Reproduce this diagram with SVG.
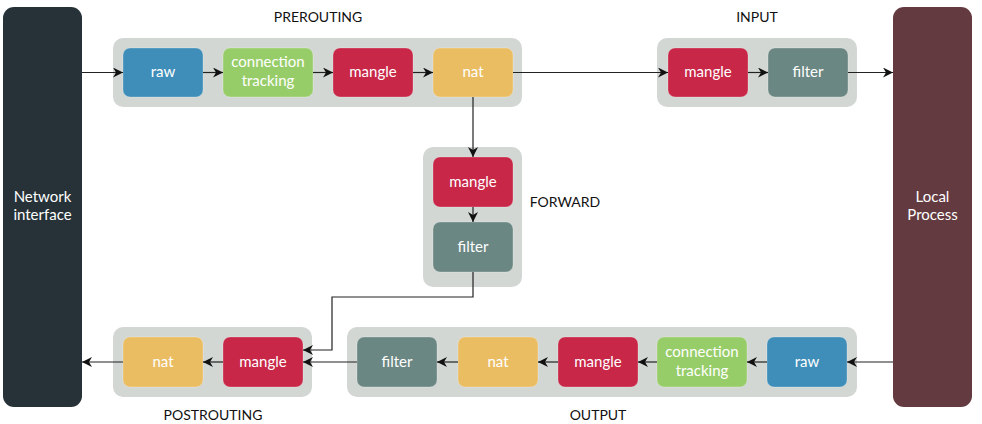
<svg xmlns="http://www.w3.org/2000/svg" width="982" height="424" viewBox="0 0 982 424">
<defs>
<style>
.grp{fill:#d3d7d4}
.n{stroke-width:1;stroke-opacity:0.25;stroke:#fff}
.raw{fill:#3e8eb9}
.ct{fill:#97cd69}
.mg{fill:#c82748}
.nat{fill:#ebbd62}
.flt{fill:#6b8783}
.t{font-family:Lato,"Open Sans",sans-serif;font-size:15px;fill:#fff;text-anchor:middle}
.lb{font-family:Lato,"Open Sans",sans-serif;font-size:14px;fill:#111;text-anchor:middle}
.c{fill:none;stroke:#222;stroke-width:1.2}
</style>
<marker id="ah" viewBox="0 0 10 10" refX="10" refY="5" markerWidth="10" markerHeight="10" markerUnits="userSpaceOnUse" orient="auto">
<path d="M0,0 L10,5 L0,10 L3,5 Z" fill="#111"/>
</marker>
</defs>
<rect width="982" height="424" fill="#fff"/>
<g id="network-interface">
<rect x="3" y="7" width="79" height="400" rx="11" fill="#263238"/>
<text class="t" x="42.5" y="202">Network</text>
<text class="t" x="42.5" y="220">interface</text>
</g>
<g id="local-process">
<rect x="893" y="7" width="79" height="400" rx="11" fill="#633a40"/>
<text class="t" x="932.5" y="202">Local</text>
<text class="t" x="932.5" y="220">Process</text>
</g>
<g id="prerouting">
<rect class="grp" x="113" y="38" width="409" height="69" rx="10"/>
<text class="lb" x="318" y="22">PREROUTING</text>
<g id="pre-raw"><rect class="n raw" x="123" y="48" width="80" height="49" rx="7"/><text class="t" x="163" y="77">raw</text></g>
<g id="pre-ct"><rect class="n ct" x="223" y="48" width="90" height="49" rx="7"/><text class="t" x="268" y="67">connection</text><text class="t" x="268" y="86">tracking</text></g>
<g id="pre-mangle"><rect class="n mg" x="333" y="48" width="80" height="49" rx="7"/><text class="t" x="373" y="77">mangle</text></g>
<g id="pre-nat"><rect class="n nat" x="433" y="48" width="80" height="49" rx="7"/><text class="t" x="473" y="77">nat</text></g>
</g>
<g id="input">
<rect class="grp" x="657" y="38" width="200" height="69" rx="10"/>
<text class="lb" x="757" y="22">INPUT</text>
<g id="in-mangle"><rect class="n mg" x="668" y="48" width="80" height="49" rx="7"/><text class="t" x="708" y="77">mangle</text></g>
<g id="in-filter"><rect class="n flt" x="768" y="48" width="80" height="49" rx="7"/><text class="t" x="808" y="77">filter</text></g>
</g>
<g id="forward">
<rect class="grp" x="423" y="147" width="99" height="140" rx="10"/>
<text class="lb" x="565" y="207">FORWARD</text>
<g id="fw-mangle"><rect class="n mg" x="433" y="157" width="80" height="50" rx="7"/><text class="t" x="473" y="187">mangle</text></g>
<g id="fw-filter"><rect class="n flt" x="433" y="222" width="80" height="50" rx="7"/><text class="t" x="473" y="252">filter</text></g>
</g>
<g id="postrouting">
<rect class="grp" x="113" y="327" width="199" height="70" rx="10"/>
<text class="lb" x="213" y="420">POSTROUTING</text>
<g id="post-nat"><rect class="n nat" x="123" y="337" width="80" height="50" rx="7"/><text class="t" x="163" y="367">nat</text></g>
<g id="post-mangle"><rect class="n mg" x="223" y="337" width="80" height="50" rx="7"/><text class="t" x="263" y="367">mangle</text></g>
</g>
<g id="output">
<rect class="grp" x="347" y="327" width="510" height="70" rx="10"/>
<text class="lb" x="598" y="420">OUTPUT</text>
<g id="out-filter"><rect class="n flt" x="357" y="337" width="80" height="50" rx="7"/><text class="t" x="397" y="367">filter</text></g>
<g id="out-nat"><rect class="n nat" x="458" y="337" width="80" height="50" rx="7"/><text class="t" x="498" y="367">nat</text></g>
<g id="out-mangle"><rect class="n mg" x="558" y="337" width="80" height="50" rx="7"/><text class="t" x="598" y="367">mangle</text></g>
<g id="out-ct"><rect class="n ct" x="657" y="337" width="90" height="50" rx="7"/><text class="t" x="702" y="357">connection</text><text class="t" x="702" y="376">tracking</text></g>
<g id="out-raw"><rect class="n raw" x="767" y="337" width="80" height="50" rx="7"/><text class="t" x="807" y="367">raw</text></g>
</g>
<g id="connectors">
<path class="c" d="M82,72.5 H123" marker-end="url(#ah)"/>
<path class="c" d="M203,72.5 H223" marker-end="url(#ah)"/>
<path class="c" d="M313,72.5 H333" marker-end="url(#ah)"/>
<path class="c" d="M413,72.5 H433" marker-end="url(#ah)"/>
<path class="c" d="M513,72.5 H668" marker-end="url(#ah)"/>
<path class="c" d="M748,72.5 H768" marker-end="url(#ah)"/>
<path class="c" d="M848,72.5 H893" marker-end="url(#ah)"/>
<path class="c" d="M473,97 V157" marker-end="url(#ah)"/>
<path class="c" d="M473,207 V222" marker-end="url(#ah)"/>
<path class="c" d="M473,272 V297 H332 V350 H303" marker-end="url(#ah)"/>
<path class="c" d="M893,362 H847" marker-end="url(#ah)"/>
<path class="c" d="M767,362 H747" marker-end="url(#ah)"/>
<path class="c" d="M657,362 H638" marker-end="url(#ah)"/>
<path class="c" d="M558,362 H538" marker-end="url(#ah)"/>
<path class="c" d="M458,362 H437" marker-end="url(#ah)"/>
<path class="c" d="M357,362 H303" marker-end="url(#ah)"/>
<path class="c" d="M223,362 H203" marker-end="url(#ah)"/>
<path class="c" d="M123,362 H82" marker-end="url(#ah)"/>
</g>
</svg>
